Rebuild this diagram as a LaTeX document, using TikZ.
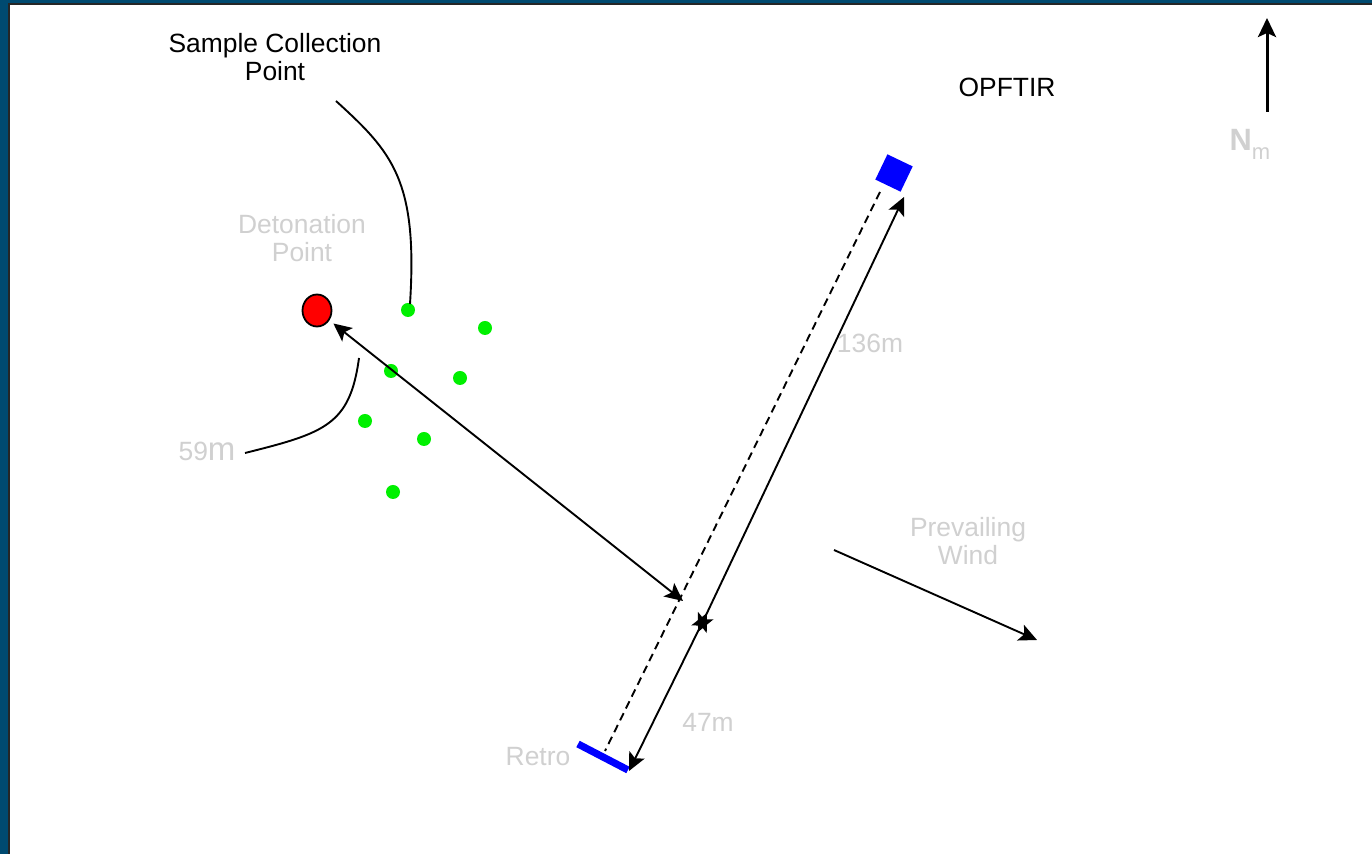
\documentclass[tikz,border=0pt]{standalone}
\usepackage{fontspec}
\setmainfont{Liberation Sans}
\usetikzlibrary{arrows.meta,shapes.geometric}
\definecolor{frameblue}{RGB}{0,74,112}
\definecolor{lg}{RGB}{208,208,208}
\definecolor{dotgreen}{RGB}{0,240,0}
\tikzset{
  lbl/.style={font=\fontsize{13.2}{14}\selectfont, align=center, inner sep=0pt},
  glbl/.style={lbl, text=lg},
  dot/.style={circle, fill=dotgreen, minimum size=7pt, inner sep=0pt},
  ln/.style={line width=0.95pt},
  dbl/.style={ln, {Stealth[length=9pt,width=8.5pt,inset=2pt]}-{Stealth[length=9pt,width=8.5pt,inset=2pt]}},
  sgl/.style={ln, -{Stealth[length=9pt,width=8.5pt,inset=2pt]}}
}
\begin{document}
\begin{tikzpicture}[x=0.5pt,y=-0.5pt]
\useasboundingbox (0,0) rectangle (1372,854);
\fill[frameblue] (0,0) rectangle (1372,854);
\fill[white] (9,5) rectangle (1372,854);
\draw[line width=1pt, black!85] (8.8,854) -- (8.8,4.2) -- (1372,4.2);

% texts
\node[lbl] (scp) at (275,57) {Sample Collection\\Point};
\node[glbl] (detl) at (302,238) {Detonation\\Point};
\node[lbl] (opl) at (1007,87) {OPFTIR};
\node[glbl] (l136) at (870,343) {136m};
\node[glbl] (l59) at (207,451) {59\fontsize{16.5}{16.5}\selectfont m};
\node[glbl] (l47) at (708,722) {47m};
\node[glbl] (retl) at (538,757) {Retro};
\node[glbl] (wind) at (968,541) {Prevailing\\Wind};
\node[text=lg, inner sep=0pt, font=\fontsize{15.4}{16}\selectfont\bfseries] (north) at (1250,144) {N\raisebox{-0.55ex}{\fontsize{11}{11}\mdseries m}};

% detonation point and sample points
\node[ellipse, draw, fill=red, line width=0.9pt, minimum width=14.5pt, minimum height=16pt, inner sep=0pt] (det) at (317,310.5) {};
\node[dot] (g1) at (408,310) {};
\node[dot] (g2) at (485,328) {};
\node[dot] (g3) at (391,371) {};
\node[dot] (g4) at (460,378) {};
\node[dot] (g5) at (365,421) {};
\node[dot] (g6) at (424,439) {};
\node[dot] (g7) at (393,492) {};

% OPFTIR box and retro
\node[fill=blue, minimum size=14pt, inner sep=0pt, rotate=-25.6] (opf) at (894,173) {};
\coordinate (r1) at (578,744);
\coordinate (r2) at (628,770);
\draw[blue, line width=3.6pt] (r1) -- (r2);

% connectors
\coordinate (scpA) at (336,101);
\coordinate (scpB) at (410,304);
\draw[ln] (scpA) .. controls (392,152) and (418,180) .. (scpB);
\coordinate (c59a) at (245,453);
\coordinate (c59b) at (359,358);
\draw[ln] (c59a) .. controls (325,433) and (350,425) .. (c59b);

\coordinate (m1) at (683,601);
\draw[dbl, shorten <=2.5pt] (det) -- (m1);

\coordinate (d1) at (880,192);
\coordinate (d2) at (605,751);
\draw[ln, dash pattern=on 4pt off 2.6pt] (d1) -- (d2);

\coordinate (a1) at (904,197);
\coordinate (a2) at (698,632);
\draw[dbl] (a1) -- (a2);
\coordinate (b1) at (707,613);
\coordinate (b2) at (629,771);
\draw[dbl] (b1) -- (b2);

\coordinate (w1) at (834,550);
\coordinate (w2) at (1037,640);
\draw[sgl] (w1) -- (w2);

\coordinate (n1) at (1267,112);
\coordinate (n2) at (1267,18);
\draw[line width=1.5pt, -{Stealth[length=9.5pt,width=9pt,inset=2pt]}] (n1) -- (n2);
\end{tikzpicture}
\end{document}
